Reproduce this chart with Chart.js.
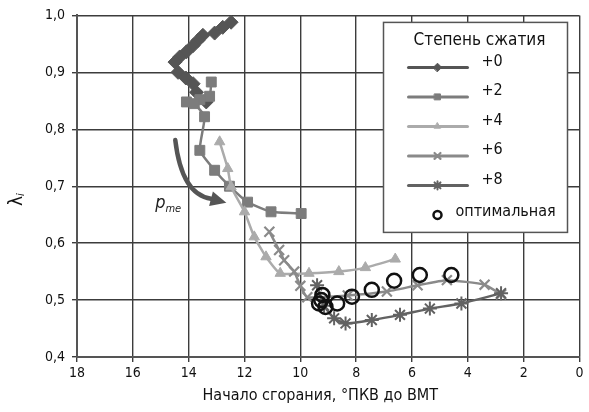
<!DOCTYPE html>
<html>
<head>
<meta charset="utf-8">
<script src="https://cdn.jsdelivr.net/npm/chart.js@4.4.0/dist/chart.umd.min.js"></script>
<style>
  html, body { margin: 0; padding: 0; background: #fff; }
</style>
</head>
<body>
<canvas id="chart" width="589" height="412"></canvas>
<script>
const FONT = "'Liberation Sans Narrow', 'DejaVu Sans Condensed', 'Arial Narrow', sans-serif";

// axis ticks
const xTickValues = [0, 2, 4, 6, 8, 10, 12, 14, 16, 18];
const yTickValues = [0.4, 0.5, 0.6, 0.7, 0.8, 0.9, 1.0];

// legend labels
const seriesNames = ['+0', '+2', '+4', '+6', '+8'];
const optimalName = 'оптимальная';
const legendTitle = 'Степень сжатия';

// +0
const cr0X = [12.48, 12.78, 13.07, 13.49, 13.67, 13.84, 14.08, 14.32, 14.49, 14.38, 14.1, 13.84, 13.72, 13.37];
const cr0Y = [0.988, 0.979, 0.969, 0.965, 0.956, 0.947, 0.936, 0.927, 0.918, 0.900, 0.890, 0.880, 0.865, 0.848];
// +2
const cr2X = [13.19, 13.25, 13.6, 14.08, 13.8, 13.43, 13.6, 13.07, 12.54, 11.89, 11.05, 9.97];
const cr2Y = [0.883, 0.858, 0.852, 0.848, 0.845, 0.822, 0.763, 0.728, 0.700, 0.672, 0.655, 0.652];
// +4
const cr4X = [12.89, 12.6, 12.48, 12.0, 11.65, 11.23, 10.72, 9.69, 8.62, 7.67, 6.6];
const cr4Y = [0.778, 0.731, 0.699, 0.655, 0.611, 0.576, 0.547, 0.547, 0.550, 0.557, 0.572];
// +6
const cr6X = [11.11, 10.76, 10.58, 10.22, 10.0, 9.75, 8.3, 6.9, 5.8, 4.75, 3.4, 2.81];
const cr6Y = [0.620, 0.588, 0.570, 0.550, 0.525, 0.505, 0.508, 0.515, 0.526, 0.535, 0.527, 0.510];
// +8
const cr8X = [9.4, 9.15, 8.79, 8.38, 7.44, 6.43, 5.36, 4.23, 2.81];
const cr8Y = [0.526, 0.490, 0.468, 0.459, 0.465, 0.474, 0.485, 0.494, 0.512];
// optimal points
const optX = [9.21, 9.33, 9.1, 9.25, 8.68, 8.15, 7.44, 6.64, 5.72, 4.59];
const optY = [0.509, 0.494, 0.488, 0.500, 0.494, 0.506, 0.518, 0.534, 0.544, 0.544];

const pairs = (xs, ys) => xs.map((x, i) => ({ x: x, y: ys[i] }));

const styles = [
  { color: '#555555', pointStyle: 'rectRot', radius: 7, border: 1 },
  { color: '#7c7c7c', pointStyle: 'rect', radius: 7, border: 1 },
  { color: '#ababab', pointStyle: 'triangle', radius: 6, border: 1 },
  { color: '#8a8a8a', pointStyle: 'crossRot', radius: 7, border: 2.2 },
  { color: '#626262', pointStyle: 'star', radius: 7, border: 2 }
];
const seriesData = [pairs(cr0X, cr0Y), pairs(cr2X, cr2Y), pairs(cr4X, cr4Y), pairs(cr6X, cr6Y), pairs(cr8X, cr8Y)];

const datasets = seriesData.map((d, i) => ({
  label: seriesNames[i],
  data: d,
  showLine: true,
  borderColor: styles[i].color,
  backgroundColor: styles[i].color,
  borderWidth: 2.5,
  pointStyle: styles[i].pointStyle,
  pointRadius: styles[i].radius,
  pointBorderWidth: styles[i].border,
  pointBorderColor: styles[i].color,
  pointBackgroundColor: styles[i].color,
  tension: 0.15,
  order: 5 - i
}));
datasets.push({
  label: optimalName,
  data: pairs(optX, optY),
  showLine: false,
  pointStyle: 'circle',
  pointRadius: 7,
  pointBorderWidth: 2.5,
  pointBorderColor: '#111',
  pointBackgroundColor: 'rgba(0,0,0,0)',
  order: 0
});

// curved arrow and its label, in data units
const arrowStart = [14.48, 0.781];
const arrowCtrl = [14.25, 0.685];
const arrowEnd = [13.2, 0.678];
const arrowTip = [12.65, 0.671];
const arrowLabelAt = [15.2, 0.662];

const overlay = {
  id: 'overlay',
  afterDraw(chart) {
    const ctx = chart.ctx;
    const xs = chart.scales.x, ys = chart.scales.y;
    const P = (p) => [xs.getPixelForValue(p[0]), ys.getPixelForValue(p[1])];
    const area = chart.chartArea;
    ctx.save();

    // x tick labels (drawn here so the last label does not shrink the plot)
    ctx.fillStyle = '#111';
    ctx.font = '14px ' + FONT;
    ctx.textAlign = 'center';
    ctx.textBaseline = 'middle';
    xTickValues.forEach(v => ctx.fillText(String(v), xs.getPixelForValue(v), area.bottom + 16));

    // arrow
    const s = P(arrowStart), c = P(arrowCtrl), e = P(arrowEnd), t = P(arrowTip);
    ctx.strokeStyle = '#555';
    ctx.fillStyle = '#555';
    ctx.lineWidth = 4.5;
    ctx.lineCap = 'round';
    ctx.beginPath();
    ctx.moveTo(s[0], s[1]);
    ctx.quadraticCurveTo(c[0], c[1], e[0], e[1]);
    ctx.stroke();
    const ang = Math.atan2(t[1] - e[1], t[0] - e[0]);
    const hw = 7.5;
    ctx.beginPath();
    ctx.moveTo(t[0], t[1]);
    ctx.lineTo(e[0] + Math.sin(ang) * hw, e[1] - Math.cos(ang) * hw);
    ctx.lineTo(e[0] - Math.sin(ang) * hw, e[1] + Math.cos(ang) * hw);
    ctx.closePath();
    ctx.fill();

    // p_me label
    const l = P(arrowLabelAt);
    ctx.fillStyle = '#222';
    ctx.textBaseline = 'alphabetic';
    ctx.textAlign = 'left';
    ctx.font = 'italic 18px ' + FONT;
    ctx.fillText('p', l[0], l[1]);
    const pw = ctx.measureText('p').width;
    ctx.font = 'italic 11px ' + FONT;
    ctx.fillText('me', l[0] + pw, l[1] + 4);

    // legend box
    const bx = area.right - 196, by = area.top + 7, bw = 184, bh = 210;
    ctx.fillStyle = '#fff';
    ctx.fillRect(bx, by, bw, bh);
    ctx.strokeStyle = '#555';
    ctx.lineWidth = 1.5;
    ctx.strokeRect(bx, by, bw, bh);
    ctx.fillStyle = '#111';
    ctx.font = '17px ' + FONT;
    ctx.textAlign = 'center';
    ctx.textBaseline = 'middle';
    ctx.fillText(legendTitle, bx + bw / 2 + 4, by + 18);
    ctx.font = '16px ' + FONT;
    ctx.textAlign = 'left';
    for (let i = 0; i < seriesNames.length; i++) {
      const yy = by + 45 + i * 29.5;
      const st = styles[i];
      ctx.strokeStyle = st.color;
      ctx.lineWidth = 3;
      ctx.beginPath();
      ctx.moveTo(bx + 25, yy);
      ctx.lineTo(bx + 84, yy);
      ctx.stroke();
      ctx.fillStyle = st.color;
      ctx.strokeStyle = st.color;
      ctx.lineWidth = st.border;
      Chart.helpers.drawPoint(ctx, { pointStyle: st.pointStyle, radius: st.radius * 0.6, borderWidth: st.border }, bx + 54, yy);
      ctx.fillStyle = '#111';
      ctx.fillText(seriesNames[i], bx + 98, yy - 6);
    }
    const oy = by + 45 + 5 * 29.5;
    ctx.strokeStyle = '#111';
    ctx.lineWidth = 2.5;
    ctx.beginPath();
    ctx.arc(bx + 54, oy, 4, 0, Math.PI * 2);
    ctx.stroke();
    ctx.fillStyle = '#111';
    ctx.fillText(optimalName, bx + 72, oy - 3);

    // axis titles
    ctx.font = '16px ' + FONT;
    ctx.textAlign = 'center';
    ctx.fillText('Начало сгорания, °ПКВ до ВМТ', (area.left + area.right) / 2 - 8, 396);
    ctx.translate(17, 200);
    ctx.rotate(-Math.PI / 2);
    ctx.font = '19px ' + FONT;
    ctx.textAlign = 'left';
    ctx.fillText('λ', -6, 0);
    const lw = ctx.measureText('λ').width;
    ctx.font = 'italic 11px ' + FONT;
    ctx.fillText('i', -6 + lw, 4);
    ctx.restore();
  }
};

new Chart(document.getElementById('chart').getContext('2d'), {
  type: 'scatter',
  data: { datasets: datasets },
  options: {
    responsive: false,
    animation: false,
    layout: { padding: { top: 15, right: 5, left: 0, bottom: 0 } },
    plugins: { legend: { display: false }, tooltip: { enabled: false } },
    scales: {
      x: {
        type: 'linear',
        reverse: true,
        min: 0,
        max: 18,
        afterFit: (s) => { s.height = 55; },
        afterBuildTicks: (s) => { s.ticks = xTickValues.map(v => ({ value: v })); },
        grid: { color: '#3c3c3c', lineWidth: 1.4, tickLength: 5 },
        border: { color: '#555', width: 2 },
        ticks: { display: false }
      },
      y: {
        type: 'linear',
        min: 0.4,
        max: 1.0,
        afterFit: (s) => { s.width = 77; },
        afterBuildTicks: (s) => { s.ticks = yTickValues.map(v => ({ value: v })); },
        grid: { color: '#3c3c3c', lineWidth: 1.4, tickLength: 5 },
        border: { color: '#555', width: 2 },
        ticks: {
          color: '#111',
          font: { family: FONT, size: 14 },
          padding: 7,
          callback: (v) => v.toFixed(1).replace('.', ',')
        }
      }
    }
  },
  plugins: [overlay]
});
</script>
</body>
</html>
